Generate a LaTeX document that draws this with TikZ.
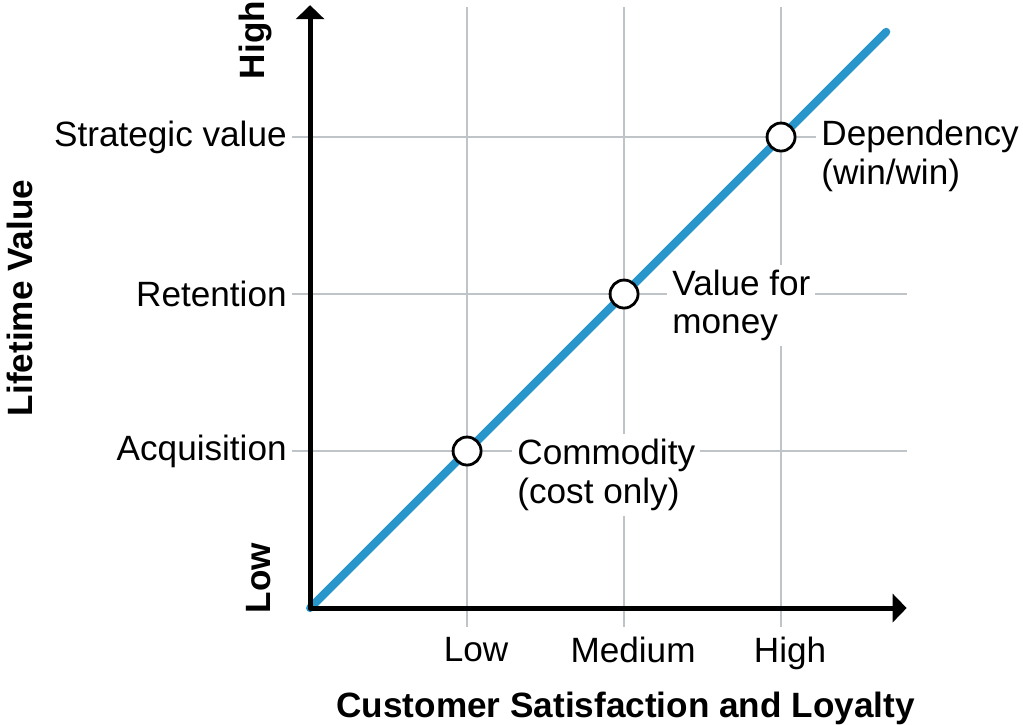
\documentclass[tikz,border=0pt]{standalone}
\usepackage{fontspec}
\setmainfont{Liberation Sans}
\usetikzlibrary{arrows.meta,positioning}
\definecolor{gridgray}{RGB}{190,196,200}
\definecolor{lineblue}{RGB}{40,150,202}
\tikzstyle{axisline}=[line width=2.8pt,line join=round,{Triangle[length=8pt,width=16pt]}-{Triangle[length=8pt,width=16pt]}]
\tikzstyle{gridline}=[draw=gridgray,line width=0.8pt]
\tikzstyle{trend}=[draw=lineblue,line width=4.6pt,line cap=round]
\tikzstyle{ring}=[circle,draw=black,fill=white,line width=1.6pt,minimum size=0.56cm,inner sep=0pt]
\tikzstyle{tag}=[fill=white,inner sep=0.1cm,align=left,font=\fontsize{20}{22}\selectfont]
\tikzstyle{ticklabel}=[inner sep=0.1cm,font=\fontsize{20}{24}\selectfont]
\tikzstyle{title}=[inner sep=0pt,font=\bfseries\fontsize{20}{24}\selectfont]

\begin{document}
\begin{tikzpicture}[x=3.14cm,y=3.14cm]
    \useasboundingbox (-1.975,-0.739) rectangle (4.541,3.873);
    % grid
    \foreach \i in {1,2,3} {
        \coordinate (gb\i) at (\i,-0.12);
        \coordinate (gt\i) at (\i,3.83);
        \coordinate (gl\i) at (-0.115,\i);
        \coordinate (gr\i) at (3.8,\i);
        \draw[gridline] (gb\i) -- (gt\i);
        \draw[gridline] (gl\i) -- (gr\i);
    };

    % labels on the points
    \coordinate (o) at (0,0);
    \coordinate (top) at (3.67,3.67);
    \foreach \i in {1,2,3} {
        \coordinate (p\i) at (\i,\i);
    };
    \node[tag,right=0.6cm of p1,xshift=0.3cm,yshift=-0.48cm] (t1) {Commodity\\(cost only)};
    \node[tag,right=0.56cm of p2,xshift=0.3cm,yshift=-0.23cm] (t2) {Value for\\money};
    \node[tag,right=0.4cm of p3,xshift=0.3cm,yshift=-0.38cm] (t3) {Dependency\\(win/win)};

    \draw[trend] (o) -- (top);
    \foreach \i in {1,2,3} {
        \node[ring] (c\i) at (p\i) {};
    };

    \coordinate (ytop) at (0,3.84);
    \coordinate (xend) at (3.8,0);
    \draw[axisline] (ytop) -- (o) -- (xend);

    % tick labels
    \node[ticklabel,left=0pt of gl1] (acq) {Acquisition};
    \node[ticklabel,left=0pt of gl2] (ret) {Retention};
    \node[ticklabel,left=0pt of gl3] (strat) {Strategic value};
    \node[ticklabel,below=0.1cm of gb1,xshift=0.18cm] (xlow) {Low};
    \node[ticklabel,below=0.1cm of gb2,xshift=0.18cm] (xmed) {Medium};
    \node[ticklabel,below=0.1cm of gb3,xshift=0.18cm] (xhigh) {High};

    % axis titles
    \node[title] (xtitle) at (2.01,-0.641) {Customer Satisfaction and Loyalty};
    \node[title,rotate=90] (ytitle) at (-1.847,1.975) {Lifetime Value};
    \node[title,rotate=90] (yhigh) at (-0.35,3.618) {High};
    \node[title,rotate=90] (ylow) at (-0.331,0.191) {Low};
\end{tikzpicture}
\end{document}
